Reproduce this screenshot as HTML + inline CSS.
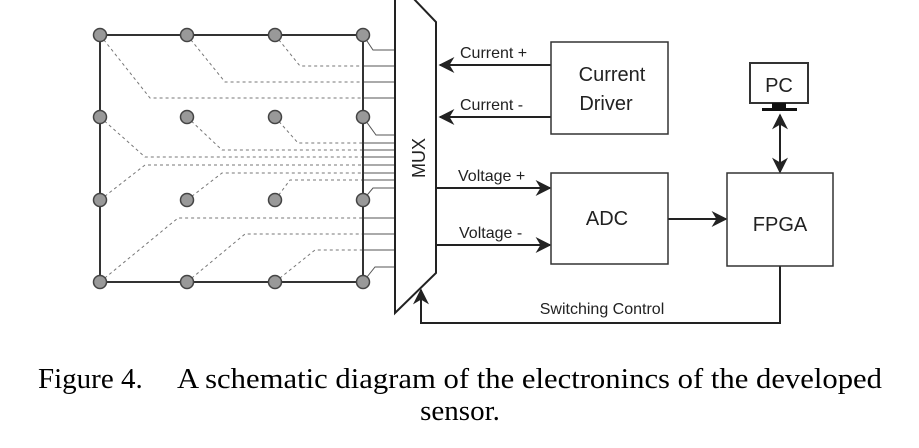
<!DOCTYPE html>
<html><head><meta charset="utf-8"><style>
html,body{margin:0;padding:0;background:#fff;width:919px;height:448px;overflow:hidden}
svg{display:block}
</style></head><body>
<svg width="919" height="448" viewBox="0 0 919 448" xmlns="http://www.w3.org/2000/svg">
<defs>
<marker id="ah" viewBox="0 0 10 10" refX="9" refY="5" markerWidth="16" markerHeight="16" markerUnits="userSpaceOnUse" orient="auto-start-reverse">
<path d="M0,0 L10,5 L0,10 L3,5 z" fill="#222"/>
</marker>
</defs>
<g stroke="#777" stroke-width="1" stroke-dasharray="3,3" fill="none">
<polyline points="100,35 150,98 363,98"/>
<polyline points="187,35 225,82 363,82"/>
<polyline points="275,35 300,66 363,66"/>
<polyline points="100,117 145,157 363,157"/>
<polyline points="100,200 145,165 363,165"/>
<polyline points="187,117 222,150 363,150"/>
<polyline points="275,117 298,143 363,143"/>
<polyline points="187,200 222,173 363,173"/>
<polyline points="275,200 290,180 363,180"/>
<polyline points="100,282 178,218 363,218"/>
<polyline points="187,282 245,234 363,234"/>
<polyline points="275,282 315,250 363,250"/>
</g>
<g stroke="#555" stroke-width="1" fill="none">
<line x1="363" y1="66" x2="395" y2="66"/><line x1="363" y1="82" x2="395" y2="82"/><line x1="363" y1="98" x2="395" y2="98"/>
<line x1="363" y1="143" x2="395" y2="143"/><line x1="363" y1="150" x2="395" y2="150"/><line x1="363" y1="157" x2="395" y2="157"/>
<line x1="363" y1="165" x2="395" y2="165"/><line x1="363" y1="173" x2="395" y2="173"/><line x1="363" y1="180" x2="395" y2="180"/>
<line x1="363" y1="218" x2="395" y2="218"/><line x1="363" y1="234" x2="395" y2="234"/><line x1="363" y1="250" x2="395" y2="250"/>
<polyline points="363,35 373,50 395,50"/>
<polyline points="363,117 376,135 395,135"/>
<polyline points="363,200 373,188 395,188"/>
<polyline points="363,282 375,267 395,267"/>
</g>
<rect x="100" y="35" width="263" height="247" fill="none" stroke="#333" stroke-width="2"/>
<g fill="#999" stroke="#444" stroke-width="1.5">
<circle cx="100" cy="35" r="6.5"/><circle cx="187" cy="35" r="6.5"/><circle cx="275" cy="35" r="6.5"/><circle cx="363" cy="35" r="6.5"/>
<circle cx="100" cy="117" r="6.5"/><circle cx="187" cy="117" r="6.5"/><circle cx="275" cy="117" r="6.5"/><circle cx="363" cy="117" r="6.5"/>
<circle cx="100" cy="200" r="6.5"/><circle cx="187" cy="200" r="6.5"/><circle cx="275" cy="200" r="6.5"/><circle cx="363" cy="200" r="6.5"/>
<circle cx="100" cy="282" r="6.5"/><circle cx="187" cy="282" r="6.5"/><circle cx="275" cy="282" r="6.5"/><circle cx="363" cy="282" r="6.5"/>
</g>
<polygon points="395,-2 413,-2 436,22 436,273 395,313" fill="#fff" stroke="#222" stroke-width="2"/>
<text x="0" y="0" transform="translate(425,158) rotate(-90)" text-anchor="middle" font-family="Liberation Sans, sans-serif" font-size="18" fill="#222">MUX</text>
<g stroke="#222" stroke-width="2" fill="none">
<line x1="551" y1="65" x2="440" y2="65" marker-end="url(#ah)"/>
<line x1="551" y1="117" x2="440" y2="117" marker-end="url(#ah)"/>
<line x1="437" y1="188" x2="550" y2="188" marker-end="url(#ah)"/>
<line x1="437" y1="245" x2="550" y2="245" marker-end="url(#ah)"/>
<line x1="668" y1="219" x2="726" y2="219" marker-end="url(#ah)"/>
<line x1="780" y1="115" x2="780" y2="172" marker-start="url(#ah)" marker-end="url(#ah)"/>
<polyline points="780,266 780,323 421,323 421,290" marker-end="url(#ah)"/>
</g>
<g stroke="#333" stroke-width="1.5" fill="#fff">
<rect x="551" y="42" width="117" height="92"/>
<rect x="551" y="173" width="117" height="91"/>
<rect x="727" y="173" width="106" height="93"/>
<rect x="750" y="63" width="58" height="40" stroke-width="2"/>
</g>
<rect x="772" y="103" width="14" height="5" fill="#111"/>
<rect x="762" y="108" width="35" height="3" fill="#111"/>
<g font-family="Liberation Sans, sans-serif" fill="#222">
<text x="612" y="81" font-size="20" text-anchor="middle">Current</text>
<text x="606" y="110" font-size="20" text-anchor="middle">Driver</text>
<text x="607" y="225" font-size="20" text-anchor="middle">ADC</text>
<text x="780" y="231" font-size="20" text-anchor="middle">FPGA</text>
<text x="779" y="92" font-size="20" text-anchor="middle">PC</text>
<text x="460" y="58" font-size="16">Current +</text>
<text x="460" y="110" font-size="16">Current -</text>
<text x="458" y="181" font-size="16">Voltage +</text>
<text x="459" y="238" font-size="16">Voltage -</text>
<text x="602" y="314" font-size="16" text-anchor="middle">Switching Control</text>
</g>
<g font-family="Liberation Serif, serif" font-size="29" fill="#000">
<text x="38" y="388">Figure 4.</text>
<text x="177" y="388" textLength="705" lengthAdjust="spacingAndGlyphs">A schematic diagram of the electronincs of the developed</text>
<text x="460" y="420" text-anchor="middle">sensor.</text>
</g>
</svg>
</body></html>
